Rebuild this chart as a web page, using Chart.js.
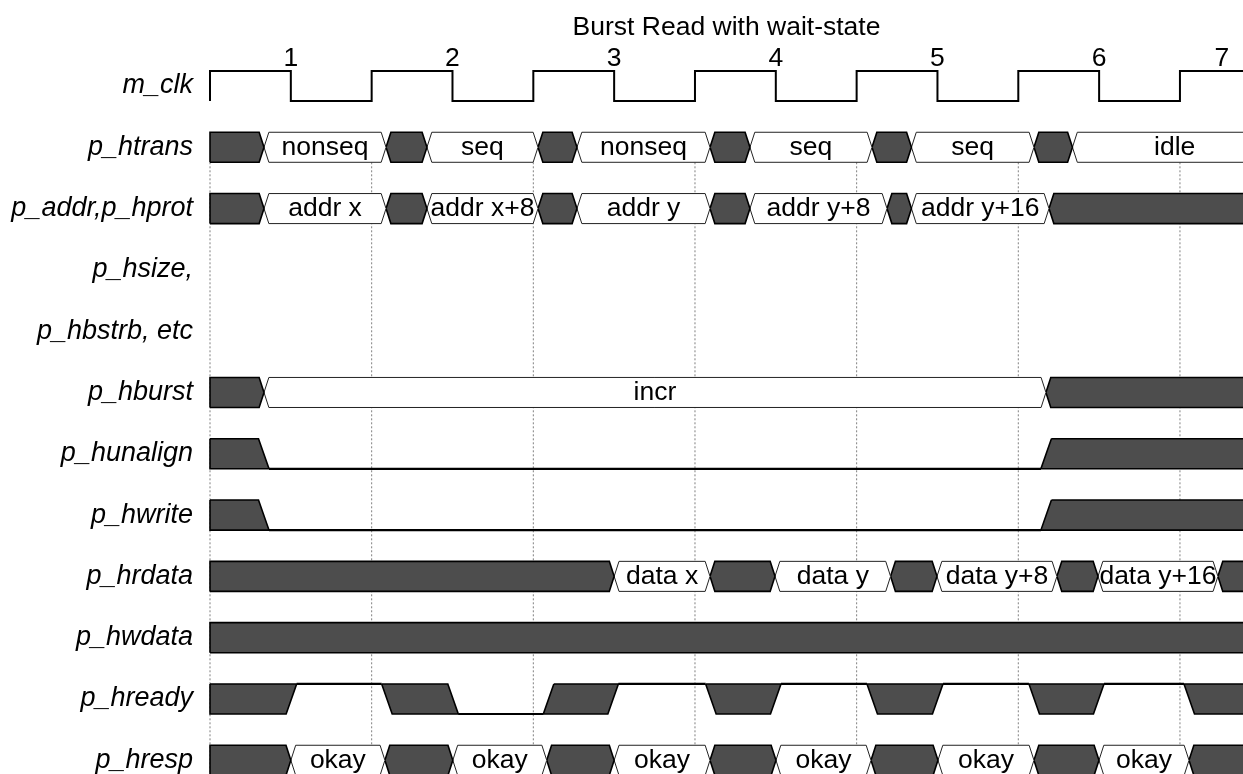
<!DOCTYPE html>
<html><head><meta charset="utf-8">
<script src="https://cdn.jsdelivr.net/npm/chart.js@4.4.0/dist/chart.umd.min.js"></script>
<style>html,body{margin:0;padding:0;background:#fff;}#wrap{width:1243px;height:774px;position:relative;}</style>
</head><body><div id="wrap"><canvas id="c"></canvas></div>
<script>
// ---------- data (time unit = clock cycles, 0 = first rising edge) ----------
const chartTitle = 'Burst Read with wait-state';
const rowNames = ['m_clk','p_htrans','p_addr,p_hprot','p_hsize,','p_hbstrb, etc','p_hburst','p_hunalign','p_hwrite','p_hrdata','p_hwdata','p_hready','p_hresp'];
const cycleLabels = ['1','2','3','4','5','6','7'];
const cycleLabelTimes = [0.5,1.5,2.5,3.5,4.5,5.5,6.26];
const clkEdges = [0,0.5,1,1.5,2,2.5,3,3.5,4,4.5,5,5.5,6];
const guideTimes = [0,1,2,3,4,5,6];
const timeEnd = 6.6;
const viewEnd = 6.39;

const htransTimes = [0,0.334,1.089,1.342,2.029,2.270,3.093,3.340,4.095,4.339,5.097,5.335];
const htransValues = [null,'nonseq',null,'seq',null,'nonseq',null,'seq',null,'seq',null,'idle'];
const addrTimes = [0,0.334,1.089,1.342,2.029,2.270,3.093,3.340,4.188,4.339,5.190];
const addrValues = [null,'addr x',null,'addr x+8',null,'addr y',null,'addr y+8',null,'addr y+16',null];
const hburstTimes = [0,0.334,5.171];
const hburstValues = [null,'incr',null];
const hrdataTimes = [0,2.500,3.093,3.495,4.210,4.497,5.239,5.493,6.235];
const hrdataValues = [null,'data x',null,'data y',null,'data y+8',null,'data y+16',null];
const hwdataTimes = [0];
const hwdataValues = [null];
const hrespTimes = [0,0.500,1.082,1.502,2.083,2.500,3.093,3.501,4.089,4.503,5.097,5.499,6.056];
const hrespValues = [null,'okay',null,'okay',null,'okay',null,'okay',null,'okay',null,'okay',null];

const hunalignTimes = [0,0.365,5.14];
const hunalignLevels = ['x',0,'x'];
const hwriteTimes = [0,0.365,5.14];
const hwriteLevels = ['x',0,'x'];
const hreadyTimes = [0,0.536,1.062,1.536,2.062,2.526,3.066,3.532,4.064,4.534,5.066,5.530,6.025];
const hreadyLevels = ['x',1,'x',0,'x',1,'x',1,'x',1,'x',1,'x'];

const busRows = [
  {row:1, times:htransTimes, values:htransValues},
  {row:2, times:addrTimes, values:addrValues},
  {row:5, times:hburstTimes, values:hburstValues},
  {row:8, times:hrdataTimes, values:hrdataValues},
  {row:9, times:hwdataTimes, values:hwdataValues},
  {row:11, times:hrespTimes, values:hrespValues}
];
const bitRows = [
  {row:6, times:hunalignTimes, levels:hunalignLevels},
  {row:7, times:hwriteTimes, levels:hwriteLevels},
  {row:10, times:hreadyTimes, levels:hreadyLevels}
];

// ---------- styles ----------
const DARK = '#4d4d4d';
const HALF = 0.245, BUS_SLANT = 0.03, BIT_SLANT = 0.065;
const CYCLE_LABEL_ROW = -0.45;
const FONT = '"Liberation Sans", Arial, Helvetica, sans-serif';
Chart.defaults.font.family = FONT;

// ---------- shape builders ----------
function segEnd(times, i){ return i === times.length-1 ? timeEnd : times[i+1]; }
function busPolygon(times, i, row){
  const a = times[i], b = segEnd(times,i), first = i===0, last = i===times.length-1;
  const top = row-HALF, bot = row+HALF, s = BUS_SLANT;
  const pts = [];
  if (first) pts.push({x:a,y:bot},{x:a,y:top}); else pts.push({x:a,y:row},{x:a+s,y:top});
  if (last) pts.push({x:b,y:top},{x:b,y:bot}); else pts.push({x:b-s,y:top},{x:b,y:row},{x:b-s,y:bot});
  if (!first) pts.push({x:a+s,y:bot});
  pts.push({x:pts[0].x,y:pts[0].y});
  return pts;
}
function bitPolygon(times, levels, i, row){
  const a = times[i], b = segEnd(times,i), first = i===0, last = i===times.length-1;
  const top = row-HALF, bot = row+HALF, s = BIT_SLANT;
  let tl, bl, tr, br;
  if (first) { tl = a; bl = a; } else if (levels[i-1]===1) { tl = a; bl = a+s; } else { bl = a; tl = a+s; }
  if (last) { tr = b; br = b; } else if (levels[i+1]===1) { tr = b; br = b-s; } else { br = b; tr = b-s; }
  return [{x:tl,y:top},{x:tr,y:top},{x:br,y:bot},{x:bl,y:bot},{x:tl,y:top}];
}

const datasets = [];
function add(data, o){ datasets.push(Object.assign({data, showLine:true, pointRadius:0, pointHoverRadius:0, fill:false, clip:false, borderJoinStyle:'miter', order:0}, o)); }

// guides (behind)
guideTimes.forEach(t => add([{x:t,y:1+HALF},{x:t,y:11.6}], {borderColor:'#808080', borderWidth:1, borderDash:[2,2], order:5}));

// clock
(function(){
  let hi = false; const pts = [{x:clkEdges[0], y:HALF}];
  clkEdges.forEach(e => { pts.push({x:e, y: hi ? -HALF : HALF}); hi = !hi; pts.push({x:e, y: hi ? -HALF : HALF}); });
  pts.push({x:timeEnd, y: hi ? -HALF : HALF});
  add(pts, {borderColor:'#000', borderWidth:2});
})();

// buses
busRows.forEach(r => r.values.forEach((v,i) => {
  const dark = v === null;
  add(busPolygon(r.times,i,r.row), {fill:'shape', backgroundColor: dark ? DARK : '#fff', borderColor: dark ? '#000' : '#222', borderWidth: dark ? 1.6 : 1});
}));

// single bit signals
bitRows.forEach(r => r.levels.forEach((lv,i) => {
  if (lv === 'x') {
    add(bitPolygon(r.times,r.levels,i,r.row), {fill:'shape', backgroundColor:DARK, borderColor:'#000', borderWidth:1.6});
  } else {
    const y = lv===1 ? r.row-HALF : r.row+HALF;
    add([{x:r.times[i],y},{x:segEnd(r.times,i),y}], {borderColor:'#000', borderWidth:2.2});
  }
}));

// ---------- text plugin ----------
const textPlugin = {
  id:'waveText',
  afterDatasetsDraw(chart){
    const {ctx} = chart, xs = chart.scales.x, ys = chart.scales.y;
    ctx.save();
    ctx.font = '26.5px ' + FONT; ctx.fillStyle = '#000'; ctx.textAlign = 'center'; ctx.textBaseline = 'middle';
    busRows.forEach(r => r.values.forEach((v,i) => {
      if (v === null) return;
      const poly = busPolygon(r.times,i,r.row);
      ctx.save(); ctx.beginPath();
      poly.forEach((p,k) => { const px = xs.getPixelForValue(p.x), py = ys.getPixelForValue(p.y); k ? ctx.lineTo(px,py) : ctx.moveTo(px,py); });
      ctx.clip();
      const mid = (r.times[i] + segEnd(r.times,i)) / 2;
      ctx.fillText(v, xs.getPixelForValue(mid), ys.getPixelForValue(r.row));
      ctx.restore();
    }));
    cycleLabels.forEach((l,i) => ctx.fillText(l, xs.getPixelForValue(cycleLabelTimes[i]), ys.getPixelForValue(CYCLE_LABEL_ROW)));
    ctx.restore();
  }
};

new Chart(document.getElementById('c'), {
  type:'scatter',
  data:{datasets},
  options:{
    responsive:true, maintainAspectRatio:false, animation:false, devicePixelRatio:1,
    layout:{padding:0},
    events:[],
    plugins:{
      legend:{display:false}, tooltip:{enabled:false},
      title:{display:true, text:chartTitle, fullSize:false, color:'#000', font:{size:26.5, weight:'normal'}, padding:{top:12, bottom:0}}
    },
    scales:{
      x:{type:'linear', min:0, max:viewEnd, display:false},
      y:{type:'linear', reverse:true, min:-0.688, max:11.224,
         grid:{display:false, drawTicks:false}, border:{display:false},
         afterBuildTicks: s => { s.ticks = rowNames.map((_,i) => ({value:i})); },
         afterFit: s => { s.width = 210; s.paddingTop = 0; s.paddingBottom = 0; },
         ticks:{autoSkip:false, padding:17, color:'#000', font:{size:27, style:'italic'}, callback:(v,i) => rowNames[i]}}
    }
  },
  plugins:[textPlugin]
});
</script></body></html>
